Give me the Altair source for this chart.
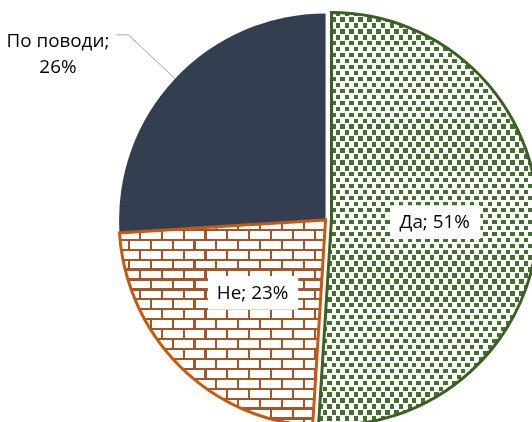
import math
import altair as alt
import pandas as pd

# ---- data ----
categories = ["Да", "Не", "По поводи"]
values = [51, 23, 26]
order = [0, 1, 2]

df = pd.DataFrame({"cat": categories, "value": values, "order": order})

# ---- layout / style constants ----
R = 208            # pie radius (px)
W = H = 2 * R
FONT = "Open Sans"
FS = 19
EXPLODE = {"Да": (6, 1)}   # offset of the pulled-out slice (scale units = px, y up)

DARK = "#333F50"
GREEN_SQ = "#43702F"
GREEN_LINE = "#3B5F24"
BRICK = "#A35628"
ORANGE = "#C55A11"
BLK, WHT = "#000000", "#ffffff"


def wedge_bbox(a0, a1, r):
    pts = [(0.0, 0.0), (r * math.sin(a0), -r * math.cos(a0)), (r * math.sin(a1), -r * math.cos(a1))]
    k = math.ceil(a0 / (math.pi / 2))
    while k * math.pi / 2 <= a1:
        a = k * math.pi / 2
        pts.append((r * math.sin(a), -r * math.cos(a)))
        k += 1
    xs_ = [p[0] for p in pts]
    ys_ = [p[1] for p in pts]
    return min(xs_), max(xs_), min(ys_), max(ys_)


def stripes(lo, hi, pitch, thick, phase, along_x, bg=BLK, fg=WHT):
    span = hi - lo
    stops = [alt.GradientStop(color=bg, offset=0)]
    k0 = math.floor((lo - phase - thick) / pitch)
    k1 = math.ceil((hi - phase + thick) / pitch)
    for k in range(k0, k1 + 1):
        c = phase + k * pitch
        a = (c - thick / 2 - lo) / span
        b = (c + thick / 2 - lo) / span
        if b <= 0 or a >= 1:
            continue
        a = round(max(0.0, a), 5)
        b = round(min(1.0, b), 5)
        stops += [alt.GradientStop(color=bg, offset=a), alt.GradientStop(color=fg, offset=a),
                  alt.GradientStop(color=fg, offset=b), alt.GradientStop(color=bg, offset=b)]
    stops.append(alt.GradientStop(color=bg, offset=1))
    if along_x:
        return alt.LinearGradient(gradient="linear", stops=stops, x1=0, y1=0, x2=1, y2=0)
    return alt.LinearGradient(gradient="linear", stops=stops, x1=0, y1=0, x2=0, y2=1)


# wedge angles (for the texture gradients' bounding boxes)
total = sum(values)
angles = {}
acc = 0
for c, v in zip(categories, values):
    angles[c] = (acc / total * 2 * math.pi, (acc + v) / total * 2 * math.pi)
    acc += v

xs = alt.Scale(domain=[-R, R], nice=False, zero=False)
ys = alt.Scale(domain=[-R, R], nice=False, zero=False)

base = (
    alt.Chart(df)
    .transform_window(cum="sum(value)", sort=[alt.SortField("order")])
    .transform_calculate(start="datum.cum - datum.value")
    .transform_calculate(mid="(datum.start + datum.cum) * PI / 100")
)

th = alt.Theta("start:Q", scale=alt.Scale(domain=[0, 100], range=[0, 2 * math.pi]))
th2 = alt.Theta2("cum:Q")


def slice_layer(cat, **mark):
    dx, dy = EXPLODE.get(cat, (0, 0))
    return (
        base.transform_filter(alt.datum.cat == cat)
        .mark_arc(radius=R, **mark)
        .encode(
            theta=th, theta2=th2,
            x=alt.XDatum(dx, type="quantitative", scale=xs, axis=None),
            y=alt.YDatum(dy, type="quantitative", scale=ys, axis=None),
        )
    )


layers = []

# По поводи: solid dark slate
layers.append(slice_layer("По поводи", fill=DARK))

# Да: staggered small green squares (mask built with blend modes, then coloured)
x0, x1, y0, y1 = wedge_bbox(*angles["Да"], R)
layers.append(slice_layer("Да", fill=BLK))
layers.append(slice_layer("Да", fill=stripes(x0, x1, 9, 4.6, 2.3, True), blend="difference"))
layers.append(slice_layer("Да", fill=stripes(y0, y1, 12, 6, 9, False), blend="difference"))
layers.append(slice_layer("Да", fill=stripes(y0, y1, 6, 4.4, 3, False), blend="darken"))
layers.append(slice_layer("Да", fill=WHT, blend="difference"))
layers.append(slice_layer("Да", fill=GREEN_SQ, blend="lighten"))
layers.append(slice_layer("Да", fill="transparent", stroke=GREEN_LINE, strokeWidth=3, strokeJoin="miter"))

# Не: brick texture
x0, x1, y0, y1 = wedge_bbox(*angles["Не"], R)
layers.append(slice_layer("Не", fill=BLK))
layers.append(slice_layer("Не", fill=stripes(x0, x1, 22, 2.2, 0, True), blend="difference"))
layers.append(slice_layer("Не", fill=stripes(y0, y1, 20, 10, 15, False), blend="difference"))
layers.append(slice_layer("Не", fill=stripes(x0, x1, 11, 2.2, 0, True), blend="darken"))
layers.append(slice_layer("Не", fill=stripes(y0, y1, 10, 2.2, 0, False), blend="lighten"))
layers.append(slice_layer("Не", fill=WHT, blend="difference"))
layers.append(slice_layer("Не", fill=BRICK, blend="lighten"))
layers.append(slice_layer("Не", fill="transparent", stroke=ORANGE, strokeWidth=3, strokeJoin="miter"))

# ---- labels ----
lab = base.transform_calculate(
    txt="datum.cat + '; ' + datum.value + '%'",
)

for cat in ["Да", "Не"]:
    dx, dy = EXPLODE.get(cat, (0, 0))
    sub = lab.transform_filter(alt.datum.cat == cat).transform_calculate(
        lx=f"{0.5 * R} * sin(datum.mid) + {dx}",
        ly=f"{0.5 * R} * cos(datum.mid) + {dy}",
    ).transform_calculate(
        bx0="datum.lx - 45", bx1="datum.lx + 46", by0="datum.ly - 17", by1="datum.ly + 17"
    )
    layers.append(
        sub.mark_rect(fill="white").encode(
            x=alt.X("bx0:Q", scale=xs, axis=None), x2="bx1:Q",
            y=alt.Y("by0:Q", scale=ys, axis=None), y2="by1:Q",
        )
    )
    layers.append(
        sub.mark_text(font=FONT, fontSize=FS, color="#000000", align="center", baseline="middle").encode(
            x=alt.X("lx:Q", scale=xs, axis=None),
            y=alt.Y("ly:Q", scale=ys, axis=None),
            text="txt:N",
        )
    )

out = lab.transform_filter(alt.datum.cat == "По поводи").transform_calculate(
    ax=f"{R} * sin(datum.mid)",
    ay=f"{R} * cos(datum.mid)",
    bx=f"{1.31 * R} * sin(datum.mid)",
    by=f"{1.31 * R} * cos(datum.mid)",
).transform_calculate(
    cx="datum.bx - 12",
    tx="datum.bx - 71",
    ty="datum.by - 12",
    lines="[datum.cat + ';', datum.value + '%']",
)
layers.append(
    out.mark_rule(color="#A6A6A6", strokeWidth=1).encode(
        x=alt.X("ax:Q", scale=xs, axis=None), x2="bx:Q",
        y=alt.Y("ay:Q", scale=ys, axis=None), y2="by:Q",
    )
)
layers.append(
    out.mark_rule(color="#A6A6A6", strokeWidth=1).encode(
        x=alt.X("bx:Q", scale=xs, axis=None), x2="cx:Q",
        y=alt.Y("by:Q", scale=ys, axis=None), y2="by:Q",
    )
)
layers.append(
    out.mark_text(font=FONT, fontSize=FS, color="#000000", align="center", baseline="alphabetic",
                  lineHeight=26).encode(
        x=alt.X("tx:Q", scale=xs, axis=None),
        y=alt.Y("ty:Q", scale=ys, axis=None),
        text=alt.Text("lines:N"),
    )
)

chart = (
    alt.layer(*layers)
    .properties(
        width=W, height=H,
        padding={"left": 120, "top": 12, "right": 0, "bottom": 0},
        autosize=alt.AutoSizeParams(type="none"),
        background="white",
    )
    .configure_view(stroke=None)
)

chart.save("out.html", embed_options={"renderer": "svg", "actions": False})
